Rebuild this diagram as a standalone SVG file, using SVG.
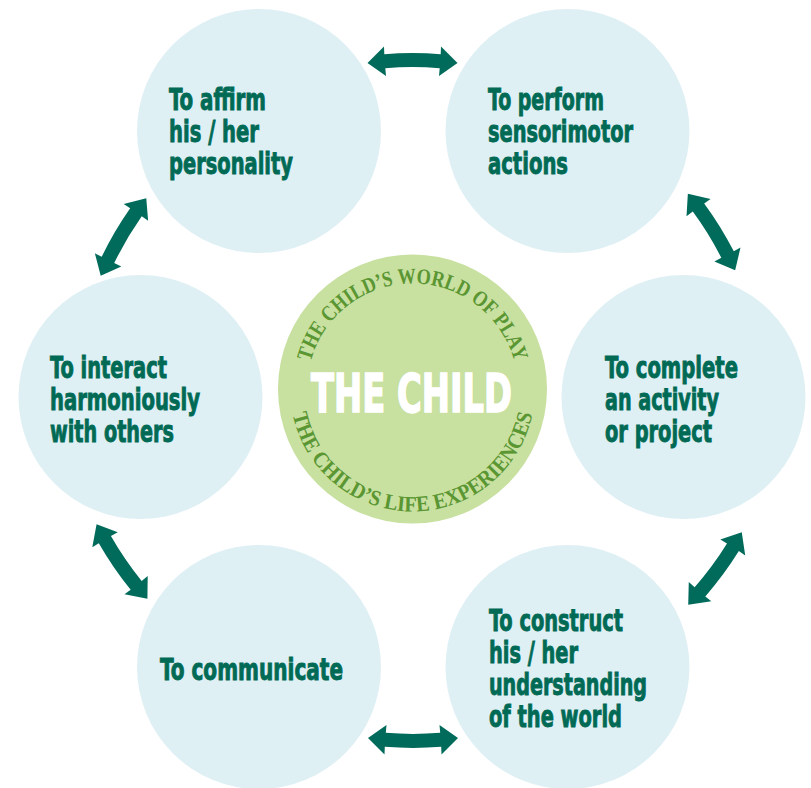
<svg xmlns="http://www.w3.org/2000/svg" width="811" height="788" viewBox="0 0 811 788">
<style>
.node{fill:#dff0f5}
.lbl{font-family:"Liberation Sans Narrow","DejaVu Sans Condensed","Liberation Sans",sans-serif;font-weight:bold;font-size:30px;fill:#006a55;stroke:#006a55;stroke-width:0.9px}
.arc{font-family:"Liberation Serif","DejaVu Serif",serif;font-weight:bold;font-size:22px;fill:#5a9632}
.arr{fill:#006b5b}
</style>
<defs>
<path id="dbl" d="M-45,0 L-28.5,-16.5 L-28.2,-8.8 A347,347 0 0 1 28.2,-8.8 L28.5,-16.5 L45,0 L26.5,13 L27.2,5.2 A333,333 0 0 0 -27.2,5.2 L-26.5,13 Z"/>
<path id="topArc" d="M307,389 A105.5,105.5 0 0 1 518,389"/>
<path id="botArc" d="M290,389 A122.5,122.5 0 0 0 535,389"/>
</defs>
<rect width="811" height="788" fill="#ffffff"/>
<g id="affirm"><circle class="node" cx="259" cy="131" r="122"/>
<text class="lbl"><tspan x="169" y="110" textLength="97" lengthAdjust="spacingAndGlyphs">To affirm</tspan><tspan x="169" y="142" textLength="90" lengthAdjust="spacingAndGlyphs">his / her</tspan><tspan x="169" y="174" textLength="124" lengthAdjust="spacingAndGlyphs">personality</tspan></text></g>
<g id="perform"><circle class="node" cx="567.5" cy="131" r="122"/>
<text class="lbl"><tspan x="488" y="110" textLength="116" lengthAdjust="spacingAndGlyphs">To perform</tspan><tspan x="488" y="142" textLength="145" lengthAdjust="spacingAndGlyphs">sensorimotor</tspan><tspan x="488" y="174" textLength="80" lengthAdjust="spacingAndGlyphs">actions</tspan></text></g>
<g id="complete"><circle class="node" cx="683.5" cy="397" r="122"/>
<text class="lbl"><tspan x="605" y="378" textLength="133" lengthAdjust="spacingAndGlyphs">To complete</tspan><tspan x="605" y="410" textLength="114" lengthAdjust="spacingAndGlyphs">an activity</tspan><tspan x="605" y="442" textLength="107" lengthAdjust="spacingAndGlyphs">or project</tspan></text></g>
<g id="construct"><circle class="node" cx="567.5" cy="667" r="122"/>
<text class="lbl"><tspan x="489" y="631" textLength="134" lengthAdjust="spacingAndGlyphs">To construct</tspan><tspan x="489" y="663" textLength="89" lengthAdjust="spacingAndGlyphs">his / her</tspan><tspan x="489" y="695" textLength="158" lengthAdjust="spacingAndGlyphs">understanding</tspan><tspan x="489" y="727" textLength="133" lengthAdjust="spacingAndGlyphs">of the world</tspan></text></g>
<g id="communicate"><circle class="node" cx="259" cy="667" r="122"/>
<text class="lbl"><tspan x="160" y="680" textLength="183" lengthAdjust="spacingAndGlyphs">To communicate</tspan></text></g>
<g id="interact"><circle class="node" cx="140.5" cy="397" r="122"/>
<text class="lbl"><tspan x="50" y="378" textLength="117" lengthAdjust="spacingAndGlyphs">To interact</tspan><tspan x="50" y="410" textLength="150" lengthAdjust="spacingAndGlyphs">harmoniously</tspan><tspan x="50" y="442" textLength="124" lengthAdjust="spacingAndGlyphs">with others</tspan></text></g>
<g id="child"><circle cx="412.5" cy="389" r="134.5" fill="#c8e0a0"/>
<text class="arc"><textPath href="#topArc" startOffset="50%" text-anchor="middle" textLength="276" lengthAdjust="spacingAndGlyphs">THE CHILD’S WORLD OF PLAY</textPath></text>
<text class="arc"><textPath href="#botArc" startOffset="50%" text-anchor="middle" textLength="334" lengthAdjust="spacingAndGlyphs">THE CHILD’S LIFE EXPERIENCES</textPath></text>
<text x="411.5" y="412" text-anchor="middle" textLength="201" lengthAdjust="spacingAndGlyphs" style="font-family:'Liberation Sans Narrow','DejaVu Sans Condensed','Liberation Sans',sans-serif;font-weight:bold;font-size:54px;fill:#ffffff;stroke:#ffffff;stroke-width:1.6px">THE CHILD</text></g>
<g id="connectors">
<use class="arr" href="#dbl" transform="translate(412.5,63)"/>
<use class="arr" href="#dbl" transform="translate(711.5,232) rotate(58.3)"/>
<use class="arr" href="#dbl" transform="translate(715,568.5) rotate(126.5)"/>
<use class="arr" href="#dbl" transform="translate(413,738) rotate(180)"/>
<use class="arr" href="#dbl" transform="translate(122,561.5) rotate(-124.4)"/>
<use class="arr" href="#dbl" transform="translate(123.5,237) rotate(-59.6)"/>
</g>
</svg>
